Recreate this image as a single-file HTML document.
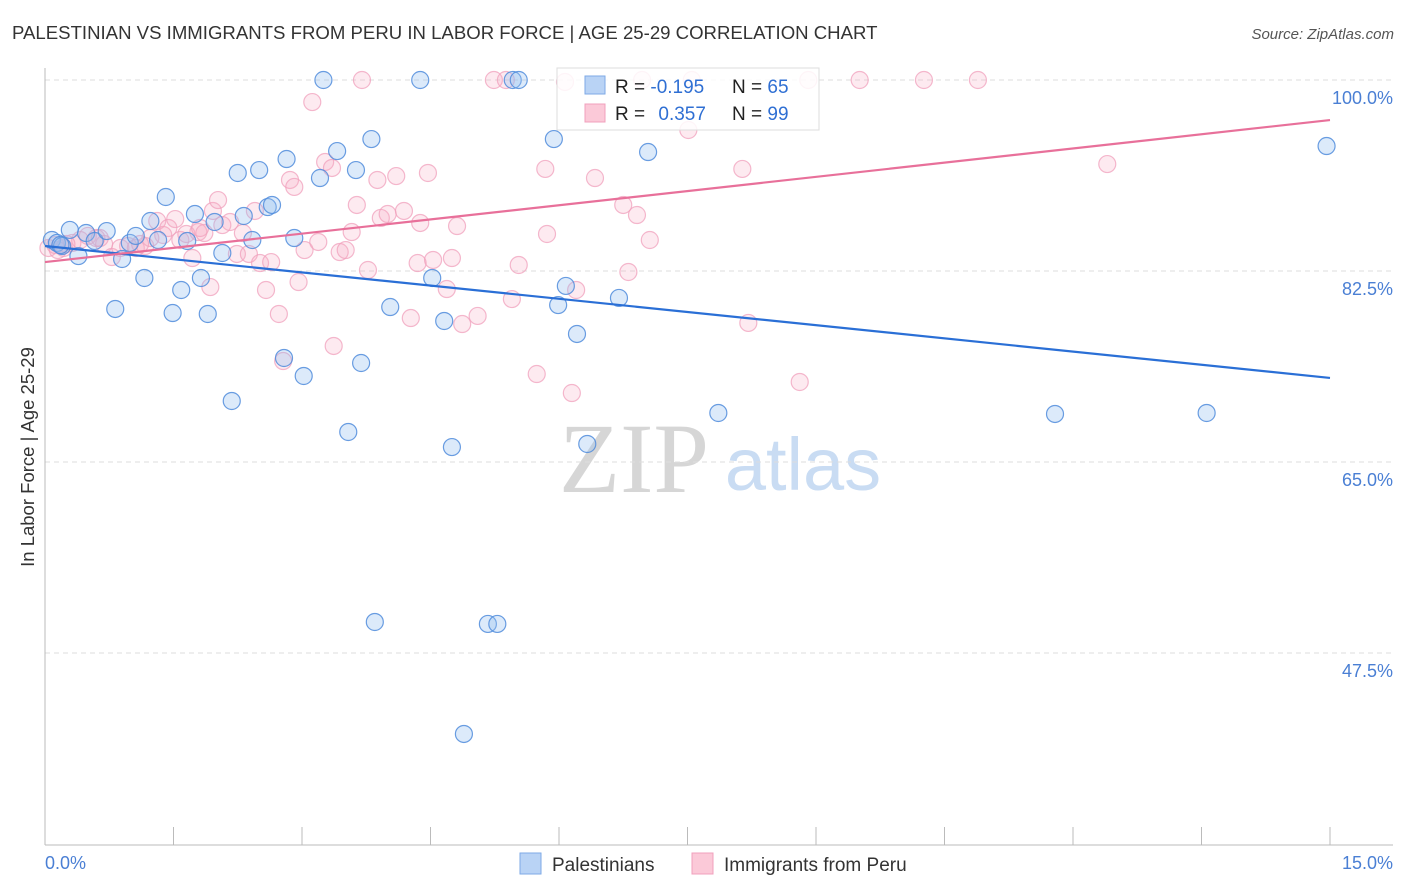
<!DOCTYPE html>
<html><head><meta charset="utf-8"><style>
body{margin:0;background:#fff;font-family:"Liberation Sans",sans-serif}
svg{display:block}
</style></head><body>
<svg id="chart" width="1406" height="892" xmlns="http://www.w3.org/2000/svg">
<text x="12" y="39" font-size="18.6" fill="#333">PALESTINIAN VS IMMIGRANTS FROM PERU IN LABOR FORCE | AGE 25-29 CORRELATION CHART</text>
<text x="1394" y="39" font-size="15" fill="#555" font-style="italic" text-anchor="end">Source: ZipAtlas.com</text>
<g>
<text x="634" y="492" font-size="100" fill="#d6d6d6" font-family="Liberation Serif,serif" text-anchor="middle">ZIP</text>
<text x="803" y="490" font-size="74" fill="#c9dcf3" text-anchor="middle">atlas</text>
</g>
<g id="grid"></g>
<g id="axes"></g>
<g id="pts"></g>
<g id="trends"></g>
<g>
<rect x="557" y="68" width="262" height="62" fill="rgba(255,255,255,0.85)" stroke="#ddd"/>
<rect x="585" y="76" width="20" height="18" fill="#b9d3f5" stroke="#7eaae6"/>
<rect x="585" y="104" width="20" height="18" fill="#fbc9d8" stroke="#f0a0bc"/>
<text x="615" y="93" font-size="19" fill="#222">R = <tspan fill="#2f6fd3">-0.195</tspan></text>
<text x="732" y="93" font-size="19" fill="#222">N = <tspan fill="#2f6fd3">65</tspan></text>
<text x="615" y="120" font-size="19" fill="#222">R = <tspan fill="#2f6fd3" dx="8">0.357</tspan></text>
<text x="732" y="120" font-size="19" fill="#222">N = <tspan fill="#2f6fd3">99</tspan></text>
</g>
<text transform="translate(34,457) rotate(-90)" font-size="18.5" fill="#333" text-anchor="middle">In Labor Force | Age 25-29</text>
<g>
<rect x="520" y="853" width="21" height="21" fill="#b9d3f5" stroke="#7eaae6"/>
<text x="552" y="871" font-size="19" fill="#333">Palestinians</text>
<rect x="692" y="853" width="21" height="21" fill="#fbc9d8" stroke="#f0a0bc"/>
<text x="724" y="871" font-size="19" fill="#333">Immigrants from Peru</text>
</g>
</svg>
<script>
const yTicks=[100,82.5,65,47.5];
const yTickLabels=["100.0%","82.5%","65.0%","47.5%"];
const xTickVals=[0,1.5,3,4.5,6,7.5,9,10.5,12,13.5,15];
const blueX=[.08,.14,.20,.29,.39,.48,.58,.72,.82,.90,.99,1.06,1.16,1.23,1.32,1.41,1.49,1.59,1.66,1.75,1.82,1.90,1.98,2.07,2.18,2.25,2.32,2.42,2.50,2.60,2.65,2.79,2.82,2.91,3.02,3.21,3.25,3.41,3.54,3.63,3.69,3.81,3.85,4.03,4.38,4.52,4.66,4.75,4.89,5.17,5.28,5.46,5.53,5.94,5.99,6.08,6.21,6.33,6.70,7.04,7.86,11.79,13.56,14.96,.18];
const blueY=[85.34,85.07,84.79,86.26,83.87,85.98,85.25,86.16,79.02,83.60,85.07,85.71,81.86,87.08,85.34,89.28,78.65,80.76,85.25,87.72,81.86,78.56,86.99,84.15,70.59,91.48,87.54,85.34,91.75,88.36,88.55,74.53,92.76,85.52,72.88,91.02,100,93.49,67.75,91.75,74.07,94.59,50.34,79.20,100,81.86,77.92,66.37,40.08,50.16,50.16,100,100,94.59,79.38,81.13,76.73,66.65,80.03,93.40,69.49,69.40,69.49,93.95,84.88];
const pinkX=[.04,.12,.22,.32,.41,.50,.60,.69,.78,.88,.97,1.06,1.17,1.23,1.31,1.38,1.44,1.52,1.58,1.65,1.72,1.79,1.86,1.93,1.96,2.02,2.07,2.16,2.24,2.31,2.38,2.45,2.51,2.58,2.64,2.73,2.78,2.86,2.91,2.96,3.03,3.12,3.19,3.27,3.35,3.37,3.44,3.51,3.58,3.64,3.77,3.88,3.92,4.00,4.10,4.19,4.27,4.35,4.38,4.47,4.53,4.69,4.75,4.81,4.87,5.05,5.24,5.38,5.45,5.53,5.74,5.84,5.86,6.07,6.15,6.20,6.42,6.75,6.81,6.91,7.06,6.97,7.51,7.55,8.14,8.21,8.81,8.91,9.51,10.26,10.89,12.40,3.70,.15,.25,1.11,1.81,.64];
const pinkY=[84.61,84.88,84.61,85.07,85.34,85.71,85.52,84.97,83.78,84.61,84.79,84.61,84.79,85.52,87.08,85.80,86.44,87.26,85.34,85.89,83.69,86.07,85.98,81.03,88.00,89.00,86.71,86.99,84.06,85.98,84.06,88.00,83.23,80.76,83.32,78.56,74.25,90.84,90.20,81.49,84.42,97.98,85.16,92.49,91.94,75.63,84.24,84.42,86.07,88.55,82.59,90.84,87.36,87.72,91.20,88.00,78.19,83.23,86.90,91.48,83.51,80.85,83.69,86.62,77.64,78.38,100,100,79.93,83.05,73.06,91.85,85.89,99.82,71.32,80.76,91.02,88.55,82.41,87.63,85.34,100,95.42,100,91.85,77.74,72.33,100,100,100,100,92.30,100,84.42,84.97,84.97,86.44,85.52];
const blueTrend=[84.79,72.70];
const pinkTrend=[83.32,96.33];
const NS="http://www.w3.org/2000/svg";
const X=v=>45+v/15*1285;
const Y=v=>80+(100-v)*10.914;
function mk(t,a,p){const e=document.createElementNS(NS,t);for(const k in a)e.setAttribute(k,a[k]);p.appendChild(e);return e;}
const grid=document.getElementById('grid'),axes=document.getElementById('axes'),pts=document.getElementById('pts'),tr=document.getElementById('trends');
yTicks.forEach((v,i)=>{
 const l=mk('line',{x1:45,x2:1393,y1:Y(v),y2:Y(v),stroke:'#ddd','stroke-dasharray':'5,4'},grid);
 
 
 const t=mk('text',{x:1393,y:Y(v)+24,'font-size':18,fill:'#4a7fd4','text-anchor':'end'},axes);
 t.textContent=yTickLabels[i];
 
 
});
const ya=mk('line',{x1:45,x2:45,y1:68,y2:845,stroke:'#bbb'},axes);


const xa=mk('line',{x1:45,x2:1393,y1:845,y2:845,stroke:'#bbb'},axes);


xTickVals.forEach(v=>{
 const t=mk('line',{x1:X(v),x2:X(v),y1:827,y2:845,stroke:'#bbb'},axes);
 
 
});
const xl0=mk('text',{x:45,y:869,'font-size':18,fill:'#4a7fd4'},axes);xl0.textContent='0.0%';


const xl1=mk('text',{x:1393,y:869,'font-size':18,fill:'#4a7fd4','text-anchor':'end'},axes);xl1.textContent='15.0%';


pinkX.forEach((v,i)=>{
 const c=mk('circle',{cx:X(v),cy:Y(pinkY[i]),r:8.5,fill:'rgba(246,170,195,0.25)',stroke:'rgba(240,160,188,0.75)','stroke-width':1.2},pts);
 
 
});
blueX.forEach((v,i)=>{
 const c=mk('circle',{cx:X(v),cy:Y(blueY[i]),r:8.5,fill:'rgba(150,190,240,0.33)',stroke:'rgba(80,140,220,0.85)','stroke-width':1.2},pts);
 
 
});
const bl=mk('line',{x1:X(0),x2:X(15),y1:Y(blueTrend[0]),y2:Y(blueTrend[1]),stroke:'#2a6fd6','stroke-width':2.2},tr);


const pl=mk('line',{x1:X(0),x2:X(15),y1:Y(pinkTrend[0]),y2:Y(pinkTrend[1]),stroke:'#e8709a','stroke-width':2.2},tr);


</script>
</body></html>
